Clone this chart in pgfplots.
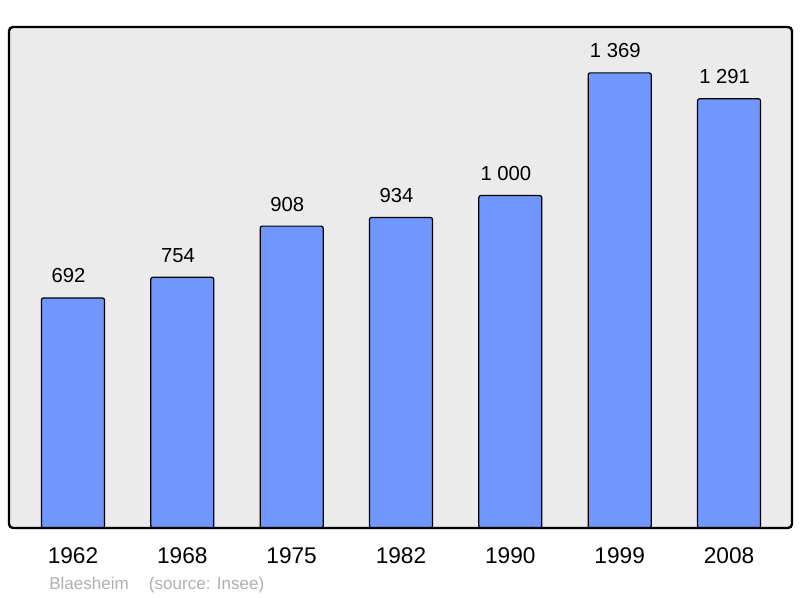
\documentclass[border=0pt]{standalone}
\usepackage{fontspec}
\setmainfont{Liberation Sans}
\usepackage{pgfplots}
\pgfplotsset{compat=1.18}
\definecolor{barblue}{RGB}{112,150,255}
\definecolor{bggray}{RGB}{235,235,235}
\definecolor{srcgray}{RGB}{176,176,176}
\begin{document}
\begin{tikzpicture}
\useasboundingbox (-6.75pt,-52.5pt) rectangle (593.25pt,396pt);
\begin{axis}[
  scale only axis,
  width=587.25pt, height=375.75pt,
  at={(0,0)}, anchor=south west,
  xmin=-0.585, xmax=6.576,
  ymin=0, ymax=1507,
  axis line style={draw=none},
  axis background/.style={fill=bggray, rounded corners=3pt},
  xtick=data,
  xticklabels={1962,1968,1975,1982,1990,1999,2008},
  ytick=\empty,
  major tick length=0pt,
  xticklabel style={font=\fontsize{17pt}{19pt}\selectfont, anchor=base, yshift=-26.8pt},
  /pgf/number format/.cd, 1000 sep={\ }, assume math mode=true,
  /pgfplots/.cd,
  ybar, bar width=47.25pt,
  nodes near coords,
  every node near coord/.style={font=\fontsize{15.2pt}{17pt}\selectfont, anchor=base, inner sep=0pt, yshift=11.25pt, xshift=-3.3pt, text=black},
  clip=false,
]
\addplot[fill=barblue, draw=black, line width=0.9pt, rounded corners=1.5pt] coordinates {
  (0,692) (1,754) (2,908) (3,934) (4,1000) (5,1369) (6,1291)
};
\draw[line width=1.8pt, rounded corners=3pt] (rel axis cs:0,0) rectangle (rel axis cs:1,1);
\node[anchor=base west, inner sep=0pt, text=srcgray, font=\fontsize{12.8pt}{14pt}\selectfont]
  at (rel axis cs:0,0) [xshift=30pt, yshift=-46.5pt] {Blaesheim\hspace{15pt}(source: Insee)};
\end{axis}
\end{tikzpicture}
\end{document}
